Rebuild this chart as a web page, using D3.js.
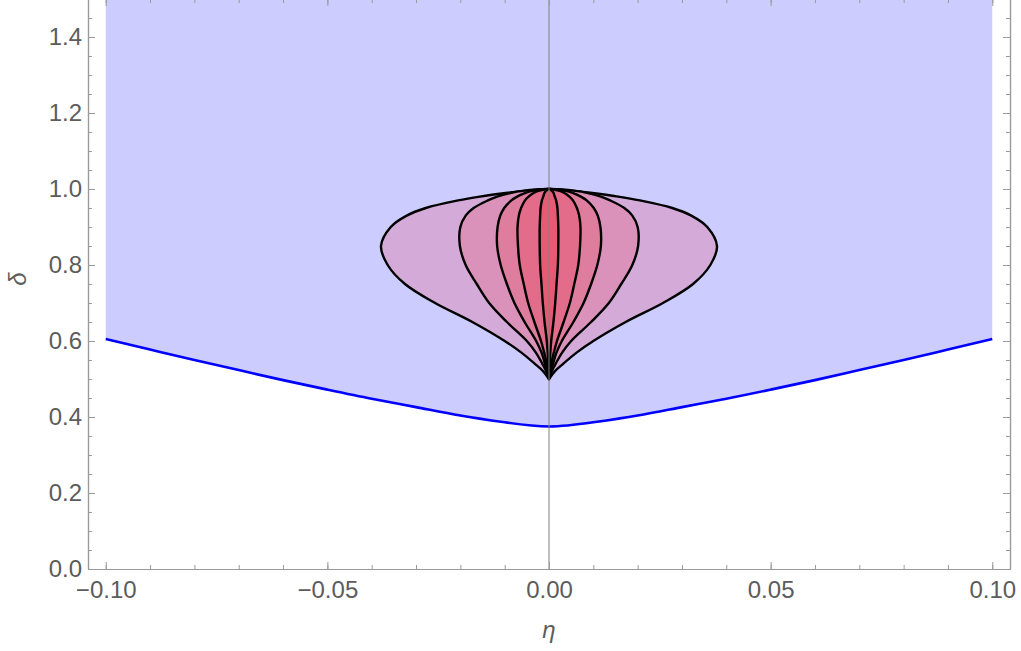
<!DOCTYPE html>
<html>
<head>
<meta charset="utf-8">
<script src="https://cdn.jsdelivr.net/npm/d3@7.9.0/dist/d3.min.js"></script>
<style>
  body { margin: 0; background: #fff; }
  svg { display: block; font-family: 'Liberation Sans', Arial, sans-serif; }
</style>
</head>
<body>
<div id="chart"></div>
<script>
// Lower boundary of the shaded (blue) region: delta as a function of eta
const boundaryEta = [-0.10, -0.09, -0.08, -0.07, -0.06, -0.05, -0.04, -0.03, -0.02, -0.01, 0,
                     0.01, 0.02, 0.03, 0.04, 0.05, 0.06, 0.07, 0.08, 0.09, 0.10];
const boundaryDelta = [0.605, 0.5775, 0.550, 0.5235, 0.497, 0.472, 0.448, 0.426, 0.404, 0.386, 0.375,
                       0.386, 0.404, 0.426, 0.448, 0.472, 0.497, 0.5235, 0.550, 0.5775, 0.605];

// Nested teardrop contours: half-width in eta at each delta level
const dropDelta = [0.5, 0.52, 0.54, 0.57, 0.6, 0.65, 0.7, 0.75, 0.8, 0.85, 0.9, 0.93, 0.95, 0.97, 0.98, 0.99, 0.995, 1.0];
const dropHalfWidth = [
  [0, 0.0013, 0.0032, 0.0063, 0.0100, 0.0173, 0.0257, 0.0325, 0.0364, 0.0379, 0.0357, 0.0321, 0.0278, 0.0205, 0.0156, 0.0093, 0.0055, 0],
  [0, 0.0006, 0.0015, 0.0030, 0.0050, 0.0095, 0.0135, 0.0163, 0.0188, 0.0201, 0.0200, 0.0188, 0.0170, 0.0138, 0.0117, 0.0085, 0.0060, 0],
  [0, 0.00035, 0.0009, 0.0017, 0.0029, 0.0055, 0.0078, 0.0095, 0.0109, 0.0117, 0.0116, 0.0110, 0.0101, 0.0085, 0.0072, 0.0053, 0.0038, 0],
  [0, 0.0002, 0.0005, 0.0011, 0.0018, 0.0033, 0.0047, 0.0057, 0.0066, 0.0070, 0.0071, 0.0068, 0.0063, 0.0054, 0.0046, 0.0034, 0.0024, 0],
  [0, 0.00006, 0.00016, 0.0003, 0.0005, 0.0010, 0.0014, 0.0017, 0.0020, 0.0021, 0.0021, 0.0020, 0.0019, 0.0016, 0.0013, 0.0010, 0.0007, 0]
];
const dropColors = ['#d3aad8', '#da92ba', '#df7d9e', '#e26c89', '#e45b73'];

const xMajor = [-0.1, -0.05, 0, 0.05, 0.1];
const yMajor = [0, 0.2, 0.4, 0.6, 0.8, 1.0, 1.2, 1.4];

const width = 1021;
const height = 651;
const frame = { left: 88, right: 1010, top: -1, bottom: 569 };

const svg = d3.select('#chart')
  .append('svg')
  .attr('width', width)
  .attr('height', height);

const x = d3.scaleLinear().domain([-0.104, 0.104]).range([frame.left, frame.right]);
const y = d3.scaleLinear().domain([0, 1.5]).range([frame.bottom, frame.top]);

// Blue shaded region above the boundary
const pts = boundaryEta.map((e, i) => [e, boundaryDelta[i]]);
const area = d3.area()
  .x(d => x(d[0]))
  .y0(d => y(d[1]))
  .y1(y(1.5))
  .curve(d3.curveNatural);
svg.append('path')
  .datum(pts)
  .attr('d', area)
  .attr('fill', '#ccccff');

const line = d3.line()
  .x(d => x(d[0]))
  .y(d => y(d[1]))
  .curve(d3.curveNatural);
svg.append('path')
  .datum(pts)
  .attr('d', line)
  .attr('fill', 'none')
  .attr('stroke', '#0000ff')
  .attr('stroke-width', 2.6);

// Teardrops, outer first
const dropLine = d3.line()
  .x(d => x(d[0]))
  .y(d => y(d[1]))
  .curve(d3.curveCatmullRom.alpha(0.5));

dropHalfWidth.forEach((hw, k) => {
  const left = dropDelta.map((dd, i) => [-hw[i], dd]);
  const right = dropDelta.map((dd, i) => [hw[i], dd]).reverse().slice(1);
  svg.append('path')
    .datum(left.concat(right))
    .attr('d', d => dropLine(d) + 'Z')
    .attr('fill', dropColors[k])
    .attr('stroke', '#000')
    .attr('stroke-width', 2.4)
    .attr('stroke-linejoin', 'round');
});

// Vertical axis at eta = 0
svg.append('line')
  .attr('x1', x(0)).attr('x2', x(0))
  .attr('y1', y(0)).attr('y2', y(1.5))
  .attr('stroke', '#808080')
  .attr('stroke-width', 1);

// Frame with ticks
const frameColor = '#9a9a9a';
const textColor = '#5c5c5c';
const xMinor = d3.range(-10, 11).map(d => d / 100);
const yMinor = d3.range(0, 31).map(d => d / 20);

function styleAxis(g) {
  g.select('.domain').attr('stroke', frameColor).attr('stroke-width', 1.2);
  g.selectAll('.tick line').attr('stroke', frameColor);
  g.selectAll('.tick text').attr('fill', textColor).style('font-size', '24px');
}

// bottom
svg.append('g').attr('transform', `translate(0,${frame.bottom})`)
  .call(d3.axisBottom(x).tickValues(xMinor).tickFormat('').tickSize(-4).tickSizeOuter(0)).call(styleAxis);
svg.append('g').attr('transform', `translate(0,${frame.bottom})`)
  .call(d3.axisBottom(x).tickValues(xMajor).tickFormat(d3.format('.2f')).tickSize(-7).tickSizeOuter(0).tickPadding(12))
  .call(styleAxis);
// top
svg.append('g').attr('transform', `translate(0,${frame.top})`)
  .call(d3.axisTop(x).tickValues(xMinor).tickFormat('').tickSize(-4).tickSizeOuter(0)).call(styleAxis);
svg.append('g').attr('transform', `translate(0,${frame.top})`)
  .call(d3.axisTop(x).tickValues(xMajor).tickFormat('').tickSize(-7).tickSizeOuter(0)).call(styleAxis);
// left
svg.append('g').attr('transform', `translate(${frame.left},0)`)
  .call(d3.axisLeft(y).tickValues(yMinor).tickFormat('').tickSize(-4).tickSizeOuter(0)).call(styleAxis);
svg.append('g').attr('transform', `translate(${frame.left},0)`)
  .call(d3.axisLeft(y).tickValues(yMajor).tickFormat(d3.format('.1f')).tickSize(-7).tickSizeOuter(0).tickPadding(6))
  .call(styleAxis);
// right
svg.append('g').attr('transform', `translate(${frame.right},0)`)
  .call(d3.axisRight(y).tickValues(yMinor).tickFormat('').tickSize(-4).tickSizeOuter(0)).call(styleAxis);
svg.append('g').attr('transform', `translate(${frame.right},0)`)
  .call(d3.axisRight(y).tickValues(yMajor).tickFormat('').tickSize(-7).tickSizeOuter(0)).call(styleAxis);

svg.selectAll('.domain').attr('fill', 'none');
svg.selectAll('g').attr('font-family', null);

// Axis labels
svg.append('text')
  .attr('x', x(0))
  .attr('y', 638)
  .attr('text-anchor', 'middle')
  .attr('fill', textColor)
  .style('font-size', '24px')
  .style('font-style', 'italic')
  .text('η');

svg.append('text')
  .attr('transform', `translate(26,${(frame.top + frame.bottom) / 2 - 5}) rotate(-90)`)
  .attr('text-anchor', 'middle')
  .attr('fill', textColor)
  .style('font-size', '24px')
  .style('font-style', 'italic')
  .text('δ');
</script>
</body>
</html>
